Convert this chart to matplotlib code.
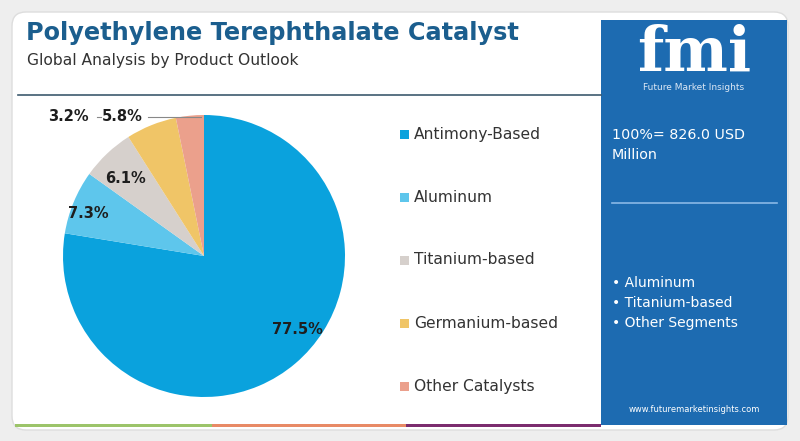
import matplotlib.pyplot as plt
from matplotlib.patches import FancyBboxPatch, Rectangle

categories = ["Antimony-Based", "Aluminum", "Titanium-based", "Germanium-based", "Other Catalysts"]
shares = [77.5, 7.3, 6.1, 5.8, 3.2]
colors = ["#0aa2dd", "#5ec6ec", "#d6d0cc", "#f0c567", "#eba08c"]
panel_bullets = ["Aluminum", "Titanium-based", "Other Segments"]
total_text = "100%= 826.0 USD\nMillion"

plt.rcParams["font.family"] = ["DejaVu Sans"]

fig = plt.figure(figsize=(8, 4.41), dpi=100)
fig.patch.set_facecolor("#eeeeee")

# background layer in pixel coordinates
bg = fig.add_axes([0, 0, 1, 1])
bg.set_xlim(0, 800)
bg.set_ylim(441, 0)
bg.axis("off")

bg.add_patch(FancyBboxPatch((12, 12), 776, 418, boxstyle="round,pad=0,rounding_size=14",
                            fc="white", ec="#dddddd", lw=1))
bg.add_patch(Rectangle((601, 20), 186, 405, fc="#1d6bb1", ec="none"))

# bottom stripe
stripe = [("#9cc46a", 15, 212), ("#e88a66", 212, 406), ("#7b2c6e", 406, 601)]
for c, x0, x1 in stripe:
    bg.add_patch(Rectangle((x0, 424), x1 - x0, 3, fc=c, ec="none"))

bg.text(26, 33, "Polyethylene Terephthalate Catalyst", fontsize=17.3, fontweight="bold",
        color="#1b5e8e", va="center", ha="left")
bg.text(27, 61, "Global Analysis by Product Outlook", fontsize=11.2, color="#333333",
        va="center", ha="left")
bg.plot([18, 601], [95, 95], color="#3d5a6e", lw=1.2)

# legend
for i, (name, c) in enumerate(zip(categories, colors)):
    y = 134 + i * 63
    bg.add_patch(Rectangle((400, y - 4.5), 9, 9, fc=c, ec="none"))
    bg.text(414, y, name, fontsize=11.2, color="#333333", va="center", ha="left")

# right panel
bg.text(694, 54, "fmi", fontsize=44, fontweight="bold", color="white", ha="center",
        va="center", family=["DejaVu Serif"])
bg.text(694, 87, "Future Market Insights", fontsize=6.5, color="#dce8f5", ha="center", va="center")
bg.text(612, 145, total_text, fontsize=10.3, color="white", ha="left", va="center",
        linespacing=1.6)
bg.plot([612, 777], [203, 203], color="#8ab8e6", lw=1.2)
for i, b in enumerate(panel_bullets):
    bg.text(612, 283 + i * 20, "\u2022 " + b, fontsize=10, color="white", ha="left", va="center")
bg.text(694, 410, "www.futuremarketinsights.com", fontsize=6, color="white",
        ha="center", va="center")

# pie
cx, cy, r = 204, 256, 141
ax = fig.add_axes([(cx - r) / 800, (441 - cy - r) / 441, 2 * r / 800, 2 * r / 441])
ax.pie(shares, colors=colors, startangle=90, counterclock=False,
       wedgeprops=dict(linewidth=0))
ax.set_aspect("equal")
ax.set_xlim(-1, 1)
ax.set_ylim(-1, 1)

lbl = dict(fontsize=10.5, fontweight="bold", color="#1e1e1e", ha="center", va="center")
ax.text(0.66, -0.52, f"{shares[0]}%", **lbl)
ax.text(-0.82, 0.30, f"{shares[1]}%", **lbl)
ax.text(-0.56, 0.55, f"{shares[2]}%", **lbl)
ax.text(-0.58, 0.99, f"{shares[3]}%", **lbl)
ax.text(-0.96, 0.99, f"{shares[4]}%", **lbl)
ax.plot([-0.76, -0.73], [0.985, 0.985], color="#888888", lw=0.8, clip_on=False)
ax.plot([-0.40, -0.02], [0.985, 0.985], color="#888888", lw=0.8, clip_on=False)

fig.savefig("out.png", dpi=100, facecolor=fig.get_facecolor())
